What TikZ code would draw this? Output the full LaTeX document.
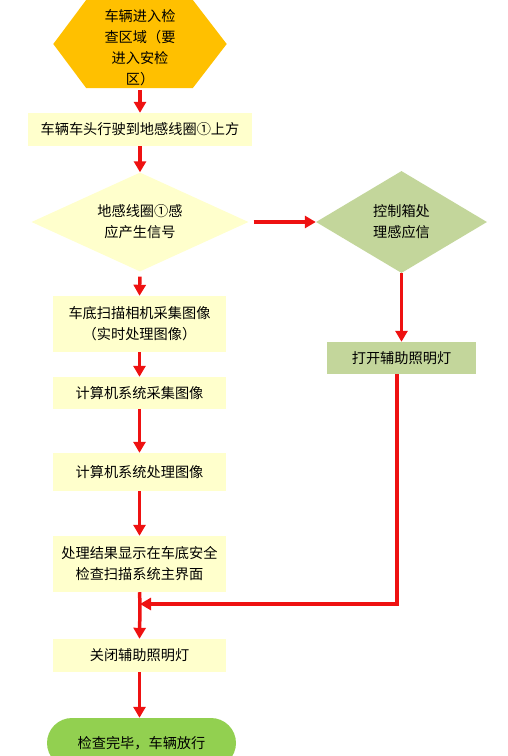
\documentclass[tikz,border=0pt]{standalone}
\usepackage{fontspec}
\setmainfont{Noto Sans CJK SC}
\usetikzlibrary{shapes.geometric,arrows.meta}
\definecolor{cream}{HTML}{FFFFCC}
\definecolor{hexcol}{HTML}{FFC000}
\definecolor{sage}{HTML}{C3D69B}
\definecolor{leaf}{HTML}{92D050}
\definecolor{arrred}{HTML}{EE1111}
\begin{document}
\begin{tikzpicture}[x=1pt,y=-1pt,
  every node/.style={font=\fontsize{14.2}{21}\selectfont, align=center, inner sep=0pt},
  box/.style={rectangle, fill=cream, minimum width=173pt},
  greenbox/.style={rectangle, fill=sage},
  dia/.style={diamond, shape aspect=2, inner sep=0pt},
  flow/.style={draw=arrred, line width=3.5pt, -{Triangle[length=11pt,width=12pt]}},
  link/.style={draw=arrred, line width=3.5pt},
]
\useasboundingbox (0,0) rectangle (507,756);
% hexagon
\node (n1) at (140,44) [minimum width=173pt, minimum height=88pt] {};
\fill[hexcol] (n1.west) -- ([xshift=33pt]n1.north west) -- ([xshift=-34pt]n1.north east)
  -- (n1.east) -- ([xshift=-34pt]n1.south east) -- ([xshift=33pt]n1.south west) -- cycle;
\node (n1t) at (140,48) {车辆进入检\\查区域（要\\进入安检\\区）};
% boxes
\node (n2) at (140,129.5) [box, minimum width=224pt, minimum height=33pt] {车辆车头行驶到地感线圈①上方};
\node (n3) at (140,222) [dia, fill=cream, minimum width=217pt, minimum height=99pt] {地感线圈①感\\应产生信号};
\node (n4) at (401.5,222) [dia, fill=sage, minimum width=171pt, minimum height=102pt] {控制箱处\\理感应信};
\node (n5) at (401.5,358) [greenbox, minimum width=149pt, minimum height=32pt] {打开辅助照明灯};
\node (n6) at (139.5,324) [box, minimum height=56pt] {车底扫描相机采集图像\\（实时处理图像）};
\node (n7) at (139.5,393) [box, minimum height=32pt] {计算机系统采集图像};
\node (n8) at (139.5,472) [box, minimum height=38pt] {计算机系统处理图像};
\node (n9) at (139.5,564) [box, minimum height=56pt] {处理结果显示在车底安全\\检查扫描系统主界面};
\node (n10) at (139.5,655.5) [box, minimum height=33pt] {关闭辅助照明灯};
\node (n11) at (141.5,743) [rectangle, rounded corners=25pt, fill=leaf, minimum width=189pt, minimum height=50pt] {检查完毕，车辆放行};
\coordinate (m) at (140,604);
% connectors
\draw[flow, shorten <=2pt] (n1.south) -- (n2.north);
\draw[flow] (n2.south) -- (n3.north);
\draw[flow, shorten <=5pt] (n3.east) -- (n4.west);
\draw[flow] (n4.south) -- (n5.north);
\draw[flow, shorten <=5pt] (n3.south) -- (n6.north);
\draw[flow] (n6.south) -- (n7.north);
\draw[flow] (n7.south) -- (n8.north);
\draw[flow] (n8.south) -- (n9.north);
\draw[link] (n9.south) -- (m);
\draw[flow] (m) -- (n10.north);
\draw[flow] ([xshift=-4.5pt]n5.south) |- (m);
\draw[flow] (n10.south) -- (n10.south |- n11.north);
\end{tikzpicture}
\end{document}
